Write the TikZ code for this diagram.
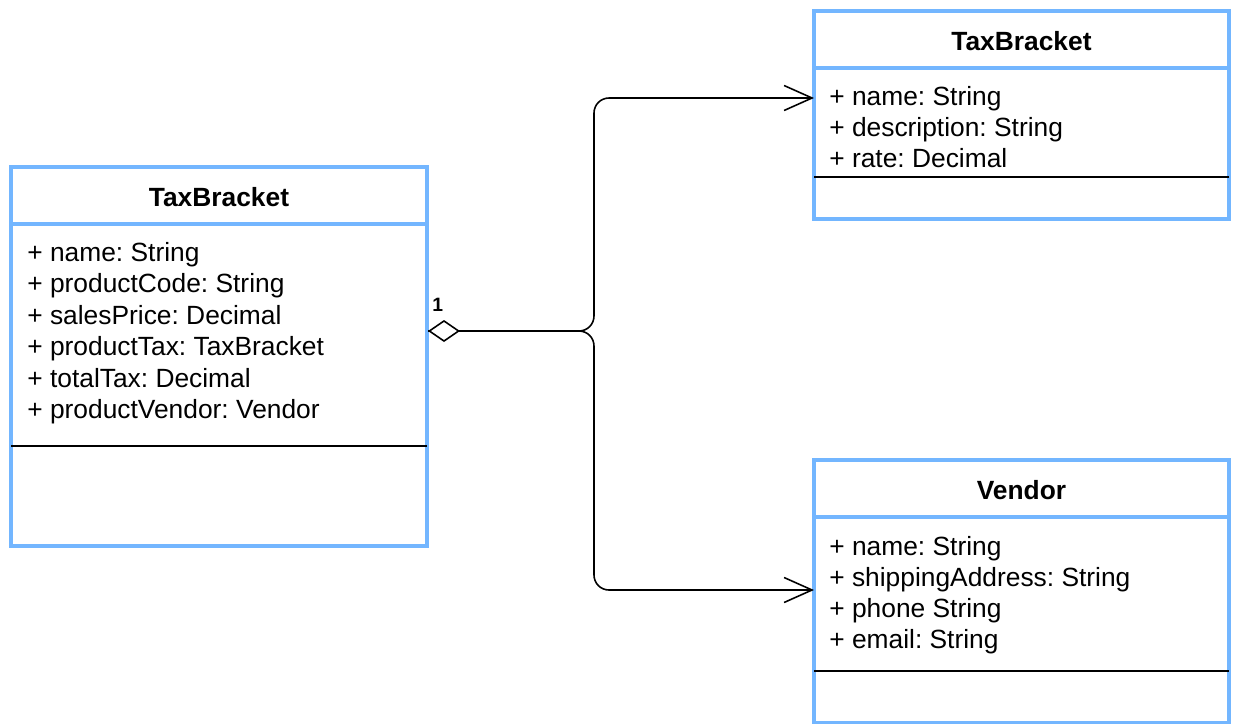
\documentclass[tikz,border=0pt]{standalone}
\usepackage{fontspec}
\setmainfont{Liberation Sans}
\usetikzlibrary{arrows.meta}
\definecolor{umlblue}{RGB}{115,182,255}
\frenchspacing
\begin{document}
\begin{tikzpicture}[x=0.02cm,y=-0.02cm,
  box/.style={draw=umlblue, line width=1.9pt, fill=white, outer sep=0pt, inner sep=0pt, anchor=north west},
  hdr/.style={draw=umlblue, line width=1.9pt},
  sepline/.style={draw=black, line width=0.9pt},
  title/.style={font=\fontsize{15}{18}\selectfont\bfseries, anchor=base, inner sep=0pt},
  attr/.style={font=\fontsize{15}{18}\selectfont, anchor=base west, inner sep=0pt},
  conn/.style={line width=0.9pt, rounded corners=0.3cm},
  barb/.style={-{Straight Barb[length=0.56cm, width=0.5cm]}},
  aggbarb/.style={{Diamond[open, fill=white, length=0.64cm, width=0.44cm]}-{Straight Barb[length=0.56cm, width=0.5cm]}}]
\useasboundingbox (0,0) rectangle (1235,724);

% Product class (left)
\node[box, minimum width=8.32cm, minimum height=7.58cm] (prod) at (11,167) {};
\draw[hdr] (11,224) -- (427,224);
\draw[sepline] (11,446) -- (427,446);
\node[title] (prodT) at (219,206) {TaxBracket};
\node[attr] (p1) at (27,261) {+ name: String};
\node[attr] (p2) at (27,292) {+ productCode: String};
\node[attr] (p3) at (27,324) {+ salesPrice: Decimal};
\node[attr] (p4) at (27,355) {+ productTax: TaxBracket};
\node[attr] (p5) at (27,387) {+ totalTax: Decimal};
\node[attr] (p6) at (27,418) {+ productVendor: Vendor};

% TaxBracket class (top right)
\node[box, minimum width=8.3cm, minimum height=4.16cm] (tax) at (814,11) {};
\draw[hdr] (814,68) -- (1229,68);
\draw[sepline] (814,177) -- (1229,177);
\node[title] (taxT) at (1021.5,50) {TaxBracket};
\node[attr] (t1) at (829,105) {+ name: String};
\node[attr] (t2) at (829,136) {+ description: String};
\node[attr] (t3) at (829,167) {+ rate: Decimal};

% Vendor class (bottom right)
\node[box, minimum width=8.3cm, minimum height=5.26cm] (ven) at (814,460) {};
\draw[hdr] (814,517) -- (1229,517);
\draw[sepline] (814,671) -- (1229,671);
\node[title] (venT) at (1021.5,499) {Vendor};
\node[attr] (v1) at (829,555) {+ name: String};
\node[attr] (v2) at (829,586) {+ shippingAddress: String};
\node[attr] (v3) at (829,617) {+ phone String};
\node[attr] (v4) at (829,648) {+ email: String};

% Connectors
\coordinate (aggpt) at (428,331);
\coordinate (split) at (594,331);
\coordinate (toTax) at (814,98);
\coordinate (toVen) at (814,590);
\draw[conn, barb] (aggpt) -- (split) |- (toTax);
\draw[conn, aggbarb] (aggpt) -- (split) |- (toVen);
\node[font=\fontsize{11}{13}\selectfont\bfseries, anchor=base west, inner sep=0pt] (mult) at (432,311) {1};
\end{tikzpicture}
\end{document}
